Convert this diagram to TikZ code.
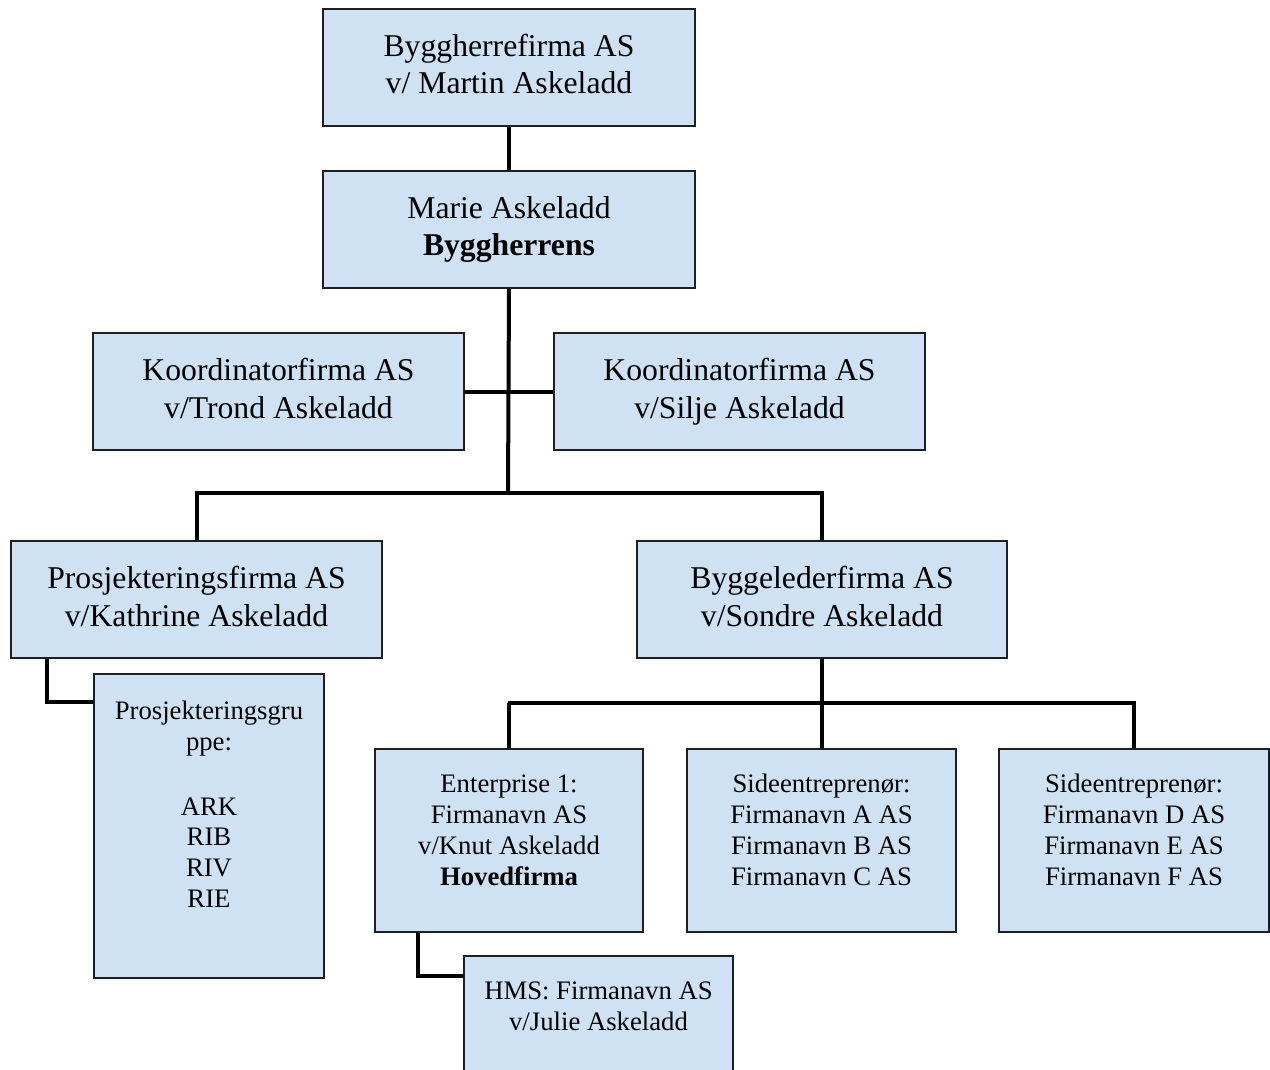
\documentclass[tikz,border=0pt]{standalone}
\usepackage{fontspec}
\setmainfont{Liberation Serif}
\definecolor{boxblue}{HTML}{CFE2F3}
\newcommand\bigtxt{\fontsize{31.7}{37.5}\selectfont}
\newcommand\smalltxt{\fontsize{26.7}{30.8}\selectfont}
\newcommand\lines[1]{\begin{tabular}[t]{@{}c@{}}#1\end{tabular}}
\begin{document}
\begin{tikzpicture}[x=1pt,y=-1pt,
  orgbox/.style={draw=black!88, line width=2pt, fill=boxblue, rectangle,
    inner sep=0pt, anchor=north west},
  wide/.style={orgbox, minimum width=371pt, minimum height=117pt},
  tall/.style={orgbox, minimum width=269pt, minimum height=183pt},
  wire/.style={line width=4pt, draw=black, line join=miter},
  bigtext/.style={anchor=base, inner sep=0pt, font=\bigtxt},
  smalltext/.style={anchor=base, inner sep=0pt, font=\smalltxt}]

\path[use as bounding box, clip] (0,0) rectangle (1270,1070);
\fill[white] (0,0) rectangle (1270,1070);

% boxes
\node[wide, minimum width=372pt] (b1) at (322,8) {};
\node[wide, minimum width=372pt] (b2) at (322,170) {};
\node[wide] (kl) at (92,332) {};
\node[wide] (kr) at (553,332) {};
\node[wide] (pf) at (10,540) {};
\node[wide, minimum width=370pt] (bf) at (636,540) {};
\node[orgbox, minimum width=230pt, minimum height=304pt] (pg) at (93,673) {};
\node[tall, minimum width=268pt] (ent) at (374,748) {};
\node[tall] (s1) at (686,748) {};
\node[tall, minimum width=270pt] (s2) at (998,748) {};
\node[orgbox, minimum width=269pt, minimum height=160pt] (hms) at (463,955) {};

% connector bends
\coordinate (trunk) at (508,493);
\coordinate (pfknee) at (47,702);
\coordinate (bfbar) at (508,703);
\coordinate (hmsknee) at (418,976);

% connectors
\draw[wire] (b1.south) -- (b2.north);
\draw[wire] (b2.south) -- (trunk);
\draw[wire] (kl.east) -- (kr.west);
\draw[wire] (pf.north) |- (trunk) -| (bf.north);
\draw[wire] (pfknee |- pf.south) |- (pg.west |- pfknee);
\draw[wire] (ent.north) |- (bfbar) -| (s2.north);
\draw[wire] (bf.south) -- (bf.south |- s1.north);
\draw[wire] (hmsknee |- ent.south) |- (hms.west |- hmsknee);

% labels
\node[bigtext] (t1) at ([yshift=-48.5pt]b1.north) {\lines{Byggherrefirma AS\\v/ Martin Askeladd}};
\node[bigtext] (t2) at ([yshift=-48.5pt]b2.north) {\lines{Marie Askeladd\\\textbf{Byggherrens}}};
\node[bigtext] (t3) at ([yshift=-48.5pt]kl.north) {\lines{Koordinatorfirma AS\\v/Trond Askeladd}};
\node[bigtext] (t4) at ([yshift=-48.5pt]kr.north) {\lines{Koordinatorfirma AS\\v/Silje Askeladd}};
\node[bigtext] (t5) at ([yshift=-48.5pt]pf.north) {\lines{Prosjekteringsfirma AS\\v/Kathrine Askeladd}};
\node[bigtext] (t6) at ([yshift=-48.5pt]bf.north) {\lines{Byggelederfirma AS\\v/Sondre Askeladd}};
\node[smalltext] (t7) at ([yshift=-46.5pt]pg.north) {\lines{Prosjekteringsgru\\ppe:\\[34pt]ARK\\RIB\\RIV\\RIE}};
\node[smalltext] (t8) at ([yshift=-44.8pt]ent.north) {\lines{Enterprise 1:\\Firmanavn AS\\v/Knut Askeladd\\\textbf{Hovedfirma}}};
\node[smalltext] (t9) at ([yshift=-44.8pt]s1.north) {\lines{Sideentreprenør:\\Firmanavn A AS\\Firmanavn B AS\\Firmanavn C AS}};
\node[smalltext] (t10) at ([yshift=-44.8pt]s2.north) {\lines{Sideentreprenør:\\Firmanavn D AS\\Firmanavn E AS\\Firmanavn F AS}};
\node[smalltext] (t11) at ([yshift=-44.8pt]hms.north) {\lines{HMS: Firmanavn AS\\v/Julie Askeladd}};
\end{tikzpicture}
\end{document}
